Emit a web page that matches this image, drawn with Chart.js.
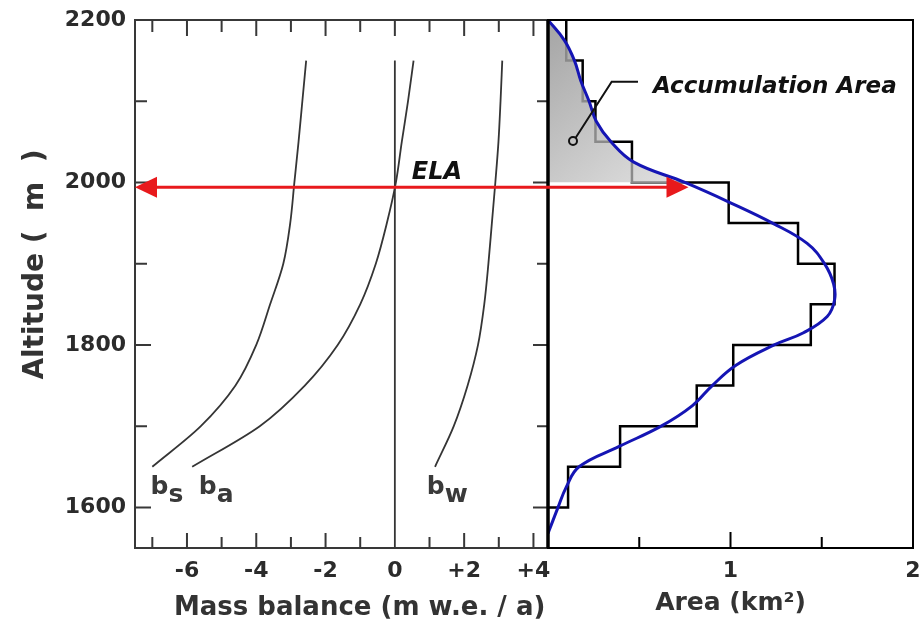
<!DOCTYPE html>
<html>
<head>
<meta charset="utf-8">
<title>Mass balance and area by altitude</title>
<script src="https://cdn.jsdelivr.net/npm/chart.js@4.4.0/dist/chart.umd.min.js"></script>
<style>
  html, body { margin: 0; padding: 0; background: #fff; }
  #wrap { width: 919px; height: 629px; }
</style>
</head>
<body>
<div id="wrap"><canvas id="myChart"></canvas></div>
<script>
// mass balance profiles (m w.e. / a), every 50 m
const profileAlt = [1650, 1700, 1750, 1800, 1850, 1900, 1950, 2000, 2050, 2100, 2150];
const summerBal = [-7.0, -5.6, -4.6, -4.0, -3.6, -3.22, -3.02, -2.9, -2.78, -2.67, -2.56];
const annualBal = [-5.85, -3.9, -2.6, -1.65, -1.0, -0.55, -0.23, 0.03, 0.2, 0.38, 0.54];
const winterBal = [1.16, 1.7, 2.1, 2.4, 2.58, 2.7, 2.8, 2.9, 2.99, 3.05, 3.1];
const zeroAlt = [2150, 1550];
const zeroBal = [0, 0];

// area of each 50 m band (km2), listed by the top of the band
const bandTop = [2200, 2150, 2100, 2050, 2000, 1950, 1900, 1850, 1800, 1750, 1700, 1650];
const bandArea = [0.1, 0.19, 0.26, 0.46, 0.99, 1.37, 1.57, 1.44, 1.015, 0.815, 0.395, 0.11];
const bandBottom = 1600;

// smoothed area curve
const hypAlt = [2200, 2175, 2150, 2125, 2100, 2075, 2050, 2025, 2000, 1975, 1950, 1925, 1900, 1875, 1855, 1835, 1815, 1800, 1775, 1750, 1725, 1700, 1675, 1650, 1625, 1600, 1575, 1568];
const hypArea = [0, 0.09, 0.145, 0.18, 0.225, 0.265, 0.345, 0.47, 0.75, 1.0, 1.23, 1.42, 1.515, 1.565, 1.57, 1.53, 1.4, 1.24, 1.03, 0.9, 0.79, 0.62, 0.39, 0.17, 0.1, 0.055, 0.012, 0];

const ela = 1994;
const elaArrowEnd = 0.77;
const accTop = 2200;
const accBottom = 2000;

// ticks
const altMajor = [1600, 1800, 2000, 2200];
const altMinor = [1700, 1900, 2100];
const balMajor = [-6, -4, -2, 0, 2, 4];
const balMinor = [-7, -5, -3, -1, 1, 3];
const areaMajor = [1, 2];
const areaMinor = [0.5, 1.5];

const pts = (xs, ys) => xs.map((x, i) => ({x: x, y: ys[i]}));
const accPts = pts(hypArea, hypAlt).filter(p => p.y <= accTop && p.y >= accBottom);
const bandPts = pts(bandArea, bandTop).concat([{x: 0, y: bandBottom}]);

Chart.defaults.font.family = 'DejaVu Sans';
Chart.defaults.color = '#2b2b2b';

const profileLine = (data) => ({
	data: data,
	xAxisID: 'xL',
	yAxisID: 'y',
	borderColor: '#353535',
	borderWidth: 1.8,
	cubicInterpolationMode: 'monotone'
});

// panel frames, inward ticks, ELA arrow and labels
const panels = {
	id: 'panels',
	afterDatasetDraw(chart, args) {
		// inside the accumulation area the band outline is grey
		if (args.index !== 1) return;
		const ctx = chart.ctx;
		const xR = chart.scales.xR;
		const accLine = args.meta.dataset;
		const p = args.meta.data;
		const last = p[p.length - 1];
		const base = xR.getPixelForValue(0);
		ctx.save();
		ctx.beginPath();
		accLine.path(ctx);
		ctx.lineTo(last.x, last.y + 1.5);
		ctx.lineTo(base, last.y + 1.5);
		ctx.lineTo(base, p[0].y);
		ctx.closePath();
		ctx.clip();
		ctx.beginPath();
		chart.getDatasetMeta(2).dataset.path(ctx);
		ctx.strokeStyle = '#8a8a8a';
		ctx.lineWidth = 2.5;
		ctx.stroke();
		ctx.restore();
	},
	afterDatasetsDraw(chart) {
		const {ctx, chartArea} = chart;
		const {xL, xR, y} = chart.scales;
		const top = chartArea.top, bottom = chartArea.bottom;
		const mid = xL.right;
		ctx.save();
		ctx.lineCap = 'butt';

		// left panel
		ctx.strokeStyle = '#383838';
		ctx.lineWidth = 2;
		ctx.strokeRect(xL.left, top, mid - xL.left, bottom - top);
		ctx.beginPath();
		balMajor.concat(balMinor).forEach(v => {
			const px = xL.getPixelForValue(v);
			const major = balMajor.includes(v);
			if (v !== 0) {
				ctx.moveTo(px, bottom);
				ctx.lineTo(px, bottom - (major ? 15 : 11));
			}
			ctx.moveTo(px, top);
			ctx.lineTo(px, top + (major ? 16 : 12));
		});
		altMajor.concat(altMinor).forEach(v => {
			const py = y.getPixelForValue(v);
			const major = altMajor.includes(v);
			ctx.moveTo(xL.left, py);
			ctx.lineTo(xL.left + (major ? 16 : 12), py);
			ctx.moveTo(mid, py);
			ctx.lineTo(mid - (major ? 15 : 11), py);
		});
		ctx.stroke();

		// right panel
		ctx.strokeStyle = '#000';
		ctx.strokeRect(mid, top, xR.right - mid, bottom - top);
		ctx.beginPath();
		areaMajor.concat(areaMinor).forEach(v => {
			if (v <= xR.min || v >= xR.max) return;
			const px = xR.getPixelForValue(v);
			ctx.moveTo(px, bottom);
			ctx.lineTo(px, bottom - (areaMajor.includes(v) ? 16 : 11));
		});
		ctx.stroke();
		ctx.lineWidth = 3.5;
		ctx.beginPath();
		ctx.moveTo(mid, top);
		ctx.lineTo(mid, bottom);
		ctx.stroke();

		// ELA arrow
		const ya = y.getPixelForValue(ela);
		const xa = xL.getPixelForValue(xL.min);
		const xb = xR.getPixelForValue(elaArrowEnd);
		ctx.strokeStyle = '#e8191c';
		ctx.fillStyle = '#e8191c';
		ctx.lineWidth = 3;
		ctx.beginPath();
		ctx.moveTo(xa + 20, ya);
		ctx.lineTo(xb - 20, ya);
		ctx.stroke();
		ctx.beginPath();
		ctx.moveTo(xa, ya);
		ctx.lineTo(xa + 22, ya - 10.5);
		ctx.lineTo(xa + 22, ya + 10.5);
		ctx.closePath();
		ctx.fill();
		ctx.beginPath();
		ctx.moveTo(xb, ya);
		ctx.lineTo(xb - 22, ya - 10.5);
		ctx.lineTo(xb - 22, ya + 10.5);
		ctx.closePath();
		ctx.fill();

		// labels
		ctx.textBaseline = 'alphabetic';
		ctx.textAlign = 'left';
		ctx.fillStyle = '#111';
		ctx.font = 'italic bold 24px "DejaVu Sans"';
		ctx.fillText('ELA', xL.getPixelForValue(0.49), y.getPixelForValue(2004));
		ctx.font = 'italic bold 23px "DejaVu Sans"';
		ctx.fillText('Accumulation Area', xR.getPixelForValue(0.575), y.getPixelForValue(2110));

		// leader to the accumulation area
		ctx.strokeStyle = '#111';
		ctx.lineWidth = 2;
		const cx = xR.getPixelForValue(0.137), cy = y.getPixelForValue(2051);
		ctx.beginPath();
		ctx.moveTo(xR.getPixelForValue(0.493), y.getPixelForValue(2124));
		ctx.lineTo(xR.getPixelForValue(0.349), y.getPixelForValue(2124));
		ctx.lineTo(cx + 2.5, cy - 3);
		ctx.stroke();
		ctx.beginPath();
		ctx.arc(cx, cy, 4, 0, Math.PI * 2);
		ctx.stroke();

		// profile names b_s, b_a, b_w
		ctx.fillStyle = '#3a3a3a';
		ctx.font = 'bold 25px "DejaVu Sans"';
		[['s', -7.05], ['a', -5.66], ['w', 0.92]].forEach(([s, v]) => {
			const px = xL.getPixelForValue(v);
			const py = y.getPixelForValue(1617);
			ctx.fillText('b', px, py);
			ctx.fillText(s, px + ctx.measureText('b').width, py + 8);
		});
		ctx.restore();
	}
};

var chart = new Chart(document.getElementById('myChart'), {
	type: 'line',
	data: {
		datasets: [
			{
				data: pts(hypArea, hypAlt),
				xAxisID: 'xR',
				yAxisID: 'y',
				borderColor: '#1515b4',
				borderWidth: 3,
				tension: 0.4
			},
			{
				data: accPts,
				xAxisID: 'xR',
				yAxisID: 'y',
				borderWidth: 0,
				borderColor: 'rgba(0,0,0,0)',
				fill: 'origin',
				tension: 0.4,
				backgroundColor: function (c) {
					const ch = c.chart;
					if (!ch.chartArea) return '#bbb';
					const xR = ch.scales.xR, y = ch.scales.y;
					const g = ch.ctx.createLinearGradient(xR.getPixelForValue(0), y.getPixelForValue(accTop), xR.getPixelForValue(0.7), y.getPixelForValue(accBottom));
					g.addColorStop(0, '#a4a4a4');
					g.addColorStop(1, '#e0e0e0');
					return g;
				}
			},
			{
				data: bandPts,
				xAxisID: 'xR',
				yAxisID: 'y',
				stepped: 'after',
				borderColor: '#000',
				borderWidth: 2.5,
				borderJoinStyle: 'miter'
			},
			profileLine(pts(summerBal, profileAlt)),
			profileLine(pts(annualBal, profileAlt)),
			profileLine(pts(winterBal, profileAlt)),
			{
				data: pts(zeroBal, zeroAlt),
				xAxisID: 'xL',
				yAxisID: 'y',
				borderColor: '#353535',
				borderWidth: 1.8
			}
		]
	},
	options: {
		indexAxis: 'y',
		responsive: true,
		maintainAspectRatio: false,
		animation: false,
		layout: { padding: { top: 20, right: 6, bottom: 0, left: 0 } },
		elements: { point: { radius: 0, hoverRadius: 0 } },
		plugins: {
			legend: { display: false },
			tooltip: { enabled: false }
		},
		scales: {
			y: {
				type: 'linear',
				position: 'left',
				min: 1550,
				max: 2200,
				grid: { display: false },
				border: { display: false },
				ticks: {
					stepSize: 100,
					includeBounds: false,
					autoSkip: false,
					padding: 1,
					font: { size: 22, weight: 'bold' },
					callback: v => altMajor.includes(v) ? String(v) : ''
				},
				title: {
					display: true,
					text: '    Altitude (  m  )',
					color: '#333',
					font: { size: 28, weight: 'bold' },
					padding: { top: 19, bottom: 0 }
				},
				afterFit: s => { s.width = 135; }
			},
			xL: {
				type: 'linear',
				position: 'bottom',
				stack: 'panels',
				stackWeight: 413,
				min: -7.5,
				max: 4.42,
				grid: { display: false },
				border: { display: false },
				ticks: {
					stepSize: 1,
					includeBounds: false,
					autoSkip: false,
					maxRotation: 0,
					padding: 2,
					font: { size: 22, weight: 'bold' },
					callback: v => balMajor.includes(v) ? (v > 0 ? '+' + v : String(v)) : ''
				},
				title: {
					display: true,
					text: '    Mass balance (m w.e. / a)',
					color: '#333',
					font: { size: 26, weight: 'bold' },
					padding: { top: 0, bottom: 5 }
				},
				afterFit: s => { s.height = 81; s.paddingLeft = 0; s.paddingRight = 0; }
			},
			xR: {
				type: 'linear',
				position: 'bottom',
				stack: 'panels',
				stackWeight: 365,
				min: 0,
				max: 2,
				grid: { display: false },
				border: { display: false },
				ticks: {
					stepSize: 0.5,
					includeBounds: false,
					autoSkip: false,
					maxRotation: 0,
					padding: 2,
					font: { size: 22, weight: 'bold' },
					callback: v => areaMajor.includes(v) ? String(v) : ''
				},
				title: {
					display: true,
					text: 'Area (km²)',
					color: '#333',
					font: { size: 25, weight: 'bold' },
					padding: { top: 0, bottom: 11 }
				},
				afterFit: s => { s.height = 81; s.paddingLeft = 0; s.paddingRight = 0; }
			}
		}
	},
	plugins: [panels]
});
</script>
</body>
</html>
